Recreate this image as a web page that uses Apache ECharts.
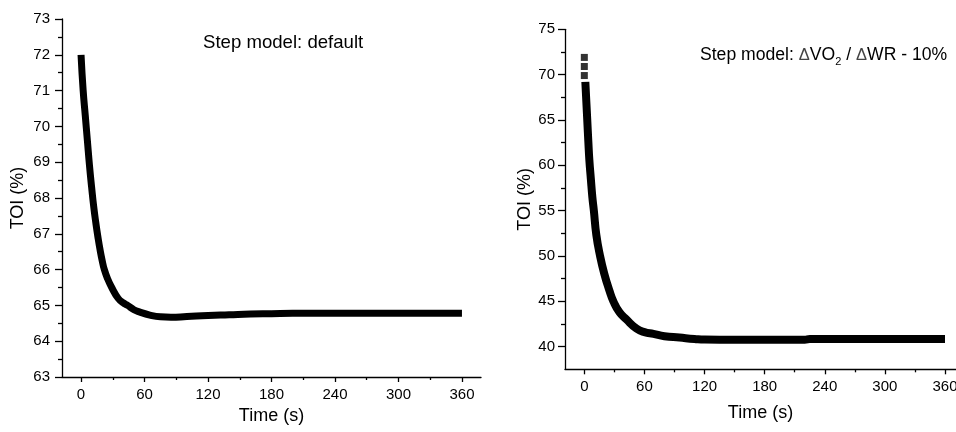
<!DOCTYPE html>
<html>
<head>
<meta charset="utf-8">
<script src="https://cdn.jsdelivr.net/npm/echarts@6/dist/echarts.min.js"></script>
<style>
html,body{margin:0;padding:0;background:#fff;}
#c{width:956px;height:432px;}
</style>
</head>
<body>
<div id="c"></div>
<script>
// ---- Data ----
var timeL = [0, 2, 4, 6, 8, 10, 12, 14, 16, 18, 20, 22, 25, 29, 35, 40, 44, 50, 55, 65, 75, 85, 100, 120, 140, 160, 180, 200, 240, 300, 360];
var toiL  = [72.0, 71.0, 70.3, 69.6, 68.9, 68.3, 67.75, 67.3, 66.9, 66.55, 66.25, 66.0, 65.75, 65.5, 65.2, 65.07, 65.0, 64.88, 64.82, 64.73, 64.68, 64.67, 64.69, 64.72, 64.74, 64.76, 64.77, 64.78, 64.78, 64.78, 64.78];

var timeR = [1, 2, 3, 4, 5, 6.5, 8, 9.5, 12, 15.7, 20, 25, 29, 35, 42, 52, 60, 69, 80, 95, 110, 120, 150, 180, 220, 225, 260, 300, 360];
var toiR  = [69.2, 67.0, 64.8, 62.6, 60.6, 58.5, 56.5, 55.0, 52.3, 50.0, 48.0, 46.2, 45.0, 43.8, 43.0, 42.0, 41.6, 41.4, 41.15, 41.0, 40.85, 40.78, 40.77, 40.77, 40.77, 40.84, 40.85, 40.85, 40.85];
var topTimeR = [0, 0, 0];
var topToiR  = [71.9, 70.9, 69.9];

var xMajor = [0, 60, 120, 180, 240, 300, 360];
var xMinor = [30, 90, 150, 210, 270, 330];
var yMajorR = [40, 45, 50, 55, 60, 65, 70, 75];
var yMinorR = [42.5, 47.5, 52.5, 57.5, 62.5, 67.5, 72.5];

var titleL = 'Step model: default';
var xName = 'Time (s)';
var yName = 'TOI (%)';

function zip(a, b) { return a.map(function (v, i) { return [v, b[i]]; }); }

var FONT = 'Liberation Sans, Arial, sans-serif';
var lineStyle = {color: '#000', width: 1.3};

function xMain(gi, gap, mn, mx) {
  return {
    type: 'value', gridIndex: gi, min: mn, max: mx, position: 'bottom',
    name: xName, nameLocation: 'middle', nameGap: gap,
    nameTextStyle: {fontSize: 18, color: '#000', fontFamily: FONT},
    axisLine: {show: true, onZero: false, lineStyle: lineStyle},
    axisTick: {show: true, inside: false, length: 5, lineStyle: lineStyle, customValues: xMajor},
    axisLabel: {show: true, margin: 10, fontSize: 15, color: '#000', fontFamily: FONT, customValues: xMajor},
    splitLine: {show: false}
  };
}
function xMinorAxis(gi, mn, mx) {
  return {
    type: 'value', gridIndex: gi, min: mn, max: mx, position: 'bottom', offset: 0,
    axisLine: {show: false, onZero: false},
    axisTick: {show: true, inside: false, length: 3, lineStyle: lineStyle, customValues: xMinor},
    axisLabel: {show: false},
    splitLine: {show: false}
  };
}

var chart = echarts.init(document.getElementById('c'), null, {renderer: 'canvas'});
chart.setOption({
  backgroundColor: '#fff',
  animation: false,
  title: [
    {text: titleL, left: 203, top: 33, padding: 0,
     textStyle: {fontSize: 18.6, fontWeight: 'normal', color: '#000', fontFamily: FONT}},
    {text: 'Step model: {d|Δ}VO{s|2} / {d|Δ}WR - 10%', left: 700, top: 44, padding: 0,
     textStyle: {fontSize: 17.6, fontWeight: 'normal', color: '#000', fontFamily: FONT,
       rich: {
         d: {fontSize: 16.5, color: '#444', fontFamily: FONT},
         s: {fontSize: 11, color: '#000', fontFamily: FONT, padding: [12, 0, 0, 0]}
       }}}
  ],
  grid: [
    {left: 62, top: 19, bottom: 55, width: 419, containLabel: false, outerBoundsMode: 'none'},
    {left: 565, top: 29.3, bottom: 62.7, right: 0, containLabel: false, outerBoundsMode: 'none'}
  ],
  xAxis: [xMain(0, 27, -18, 378), xMinorAxis(0, -18, 378), xMain(1, 35, -19.3, 371), xMinorAxis(1, -19.3, 371)],
  yAxis: [
    {type: 'value', gridIndex: 0, min: 63, max: 73, interval: 1,
     name: yName, nameLocation: 'middle', nameGap: 35,
     nameTextStyle: {fontSize: 18, color: '#000', fontFamily: FONT},
     axisLine: {show: true, onZero: false, lineStyle: lineStyle},
     axisTick: {show: true, inside: false, length: 7, lineStyle: lineStyle},
     minorTick: {show: true, splitNumber: 2, length: 4, lineStyle: lineStyle},
     axisLabel: {margin: 12, fontSize: 15, color: '#000', fontFamily: FONT},
     splitLine: {show: false}, minorSplitLine: {show: false}},
    {type: 'value', gridIndex: 1, min: 37.5, max: 75,
     name: yName, nameLocation: 'middle', nameGap: 31,
     nameTextStyle: {fontSize: 18, color: '#000', fontFamily: FONT},
     axisLine: {show: true, onZero: false, lineStyle: lineStyle},
     axisTick: {show: true, inside: false, length: 7, lineStyle: lineStyle, customValues: yMajorR},
     axisLabel: {margin: 10, fontSize: 15, color: '#000', fontFamily: FONT, customValues: yMajorR},
     splitLine: {show: false}},
    {type: 'value', gridIndex: 1, min: 37.5, max: 75, position: 'left', offset: 0,
     axisLine: {show: false, onZero: false},
     axisTick: {show: true, inside: false, length: 4, lineStyle: lineStyle, customValues: yMinorR},
     axisLabel: {show: false},
     splitLine: {show: false}}
  ],
  series: [
    {type: 'line', xAxisIndex: 0, yAxisIndex: 0, data: zip(timeL, toiL), smooth: true,
     showSymbol: false, lineStyle: {color: '#000', width: 7, cap: 'butt'}},
    {type: 'line', xAxisIndex: 2, yAxisIndex: 1, data: zip(timeR, toiR), smooth: true,
     showSymbol: false, lineStyle: {color: '#000', width: 8, cap: 'butt'}},
    {type: 'scatter', xAxisIndex: 2, yAxisIndex: 1, data: zip(topTimeR, topToiR),
     symbol: 'rect', symbolSize: 7, itemStyle: {color: '#000'}}
  ]
});
</script>
</body>
</html>
